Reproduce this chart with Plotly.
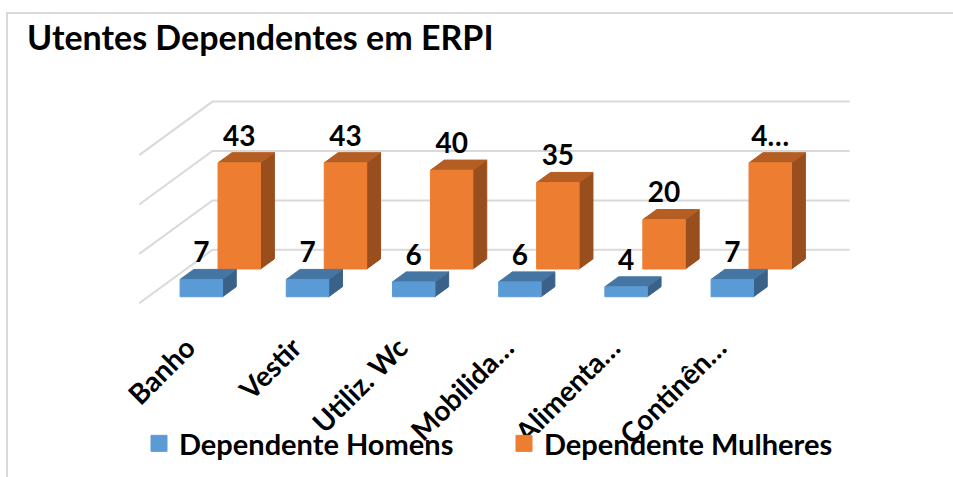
import plotly.graph_objects as go

# ---------------- data ----------------
categorias = ["Banho", "Vestir", "Utiliz. Wc", "Mobilida…", "Alimenta…", "Continên…"]
homens = [7, 7, 6, 6, 4, 7]
mulheres = [43, 43, 40, 35, 20, 43]
rotulos_homens = ["7", "7", "6", "6", "4", "7"]
rotulos_mulheres = ["43", "43", "40", "35", "20", "4…"]
grelha = [0, 20, 40, 60]
nomes = ["Dependente Homens", "Dependente Mulheres"]

# ---------------- styling / projection ----------------
FONT = "Lato"
KX = 0.690   # category units per unit of depth (oblique projection)
KY = 21.66   # value units per unit of depth
HW = 0.20    # half bar width (category units)
rows = [
    # name, values, labels, depth front, depth back, front, top, side
    (nomes[1], mulheres, rotulos_mulheres, 0.641, 0.830, "#ED7D31", "#B55E23", "#984E1D"),
    (nomes[0], homens, rotulos_homens, 0.123, 0.310, "#5B9BD5", "#4575A3", "#3A6289"),
]


def P(x, v, d):
    return x + KX * d, v + KY * d


fig = go.Figure()

# gridlines on left wall and back wall
gx, gy = [], []
for g in grelha:
    for (x, d) in [(-0.5, 0.0), (-0.5, 1.0), (len(categorias) - 0.5, 1.0)]:
        px, py = P(x, g, d)
        gx.append(px)
        gy.append(py)
    gx.append(None)
    gy.append(None)
fig.add_trace(go.Scatter(x=gx, y=gy, mode="lines", line=dict(color="#D9D9D9", width=2),
                         hoverinfo="skip", showlegend=False))

for name, vals, labs, df, db, cf, ct, cs in rows:
    fx, fy, tx, ty, sx, sy = [], [], [], [], [], []
    lx, ly = [], []
    for i, v in enumerate(vals):
        c = i
        for (x, val, d) in [(c - HW, 0, df), (c + HW, 0, df), (c + HW, v, df), (c - HW, v, df), (c - HW, 0, df)]:
            a, b = P(x, val, d); fx.append(a); fy.append(b)
        fx.append(None); fy.append(None)
        for (x, val, d) in [(c - HW, v, df), (c + HW, v, df), (c + HW, v, db), (c - HW, v, db), (c - HW, v, df)]:
            a, b = P(x, val, d); tx.append(a); ty.append(b)
        tx.append(None); ty.append(None)
        for (x, val, d) in [(c + HW, 0, df), (c + HW, 0, db), (c + HW, v, db), (c + HW, v, df), (c + HW, 0, df)]:
            a, b = P(x, val, d); sx.append(a); sy.append(b)
        sx.append(None); sy.append(None)
        a, _ = P(c, v, df)
        _, b = P(c, v, db)
        lx.append(a); ly.append(b)
    fig.add_trace(go.Scatter(x=sx, y=sy, fill="toself", fillcolor=cs, mode="lines",
                             line=dict(color=cs, width=1), hoverinfo="skip",
                             showlegend=False, legendgroup=name))
    fig.add_trace(go.Scatter(x=tx, y=ty, fill="toself", fillcolor=ct, mode="lines",
                             line=dict(color=ct, width=1), hoverinfo="skip",
                             showlegend=False, legendgroup=name))
    fig.add_trace(go.Scatter(x=fx, y=fy, fill="toself", fillcolor=cf, mode="lines",
                             line=dict(color=cf, width=1), name=name,
                             showlegend=False, legendgroup=name))
    fig.add_trace(go.Scatter(x=lx, y=ly, mode="text", text=labs, textposition="top center",
                             textfont=dict(family=FONT, size=28, color="black", weight=700),
                             hoverinfo="skip", showlegend=False, legendgroup=name))

# legend entries
for name, color in [(nomes[0], "#5B9BD5"), (nomes[1], "#ED7D31")]:
    fig.add_trace(go.Scatter(x=[None], y=[None], mode="markers", name=name, legendgroup=name,
                             marker=dict(symbol="square", size=16, color=color,
                                         line=dict(color=color, width=1))))

# ---------------- layout ----------------
W, H = 953, 477
L, R, T, B = 100, 53, 90, 152
PX0, PXS = 192.3, 106.2      # pixel of category 0 at depth 0, pixels per category
PY0, PYS = 303.3, 2.47       # pixel of value 0 at depth 0, pixels per value unit
x_range = [(L - PX0) / PXS, (W - R - PX0) / PXS]
y_range = [(PY0 - (H - B)) / PYS, (PY0 - T) / PYS]

pw, ph = W - L - R, H - T - B


def paper_x(px):
    return (px - L) / pw


def paper_y(py):
    return (H - B - py) / ph


fig.update_layout(
    width=W, height=H,
    margin=dict(l=L, r=R, t=T, b=B, pad=0, autoexpand=False),
    paper_bgcolor="white", plot_bgcolor="white",
    title=dict(text="Utentes Dependentes em ERPI", xref="container", yref="container",
               x=27 / W, xanchor="left", y=1 - 26 / H, yanchor="top",
               font=dict(family=FONT, size=34, color="black", weight=700)),
    xaxis=dict(range=x_range, tickmode="array", tickvals=list(range(len(categorias))),
               ticktext=categorias, tickangle=-45, showgrid=False, zeroline=False,
               showline=False, ticks="", fixedrange=True, ticklabelshift=-5,
               ticklabelstandoff=0, automargin=False,
               tickfont=dict(family=FONT, size=28, color="black", weight=700)),
    yaxis=dict(range=y_range, visible=False, fixedrange=True, automargin=False),
    legend=dict(orientation="h", xref="container", yref="container",
                x=139 / W, xanchor="left", y=1 - 418 / H, yanchor="top",
                font=dict(family=FONT, size=29, color="black", weight=700),
                entrywidth=320, bgcolor="rgba(0,0,0,0)"),
    shapes=[
        dict(type="line", xref="paper", yref="paper", x0=paper_x(7), y0=paper_y(H + 5),
             x1=paper_x(7), y1=paper_y(13), line=dict(color="#D9D9D9", width=2)),
        dict(type="line", xref="paper", yref="paper", x0=paper_x(6), y0=paper_y(13),
             x1=paper_x(W + 5), y1=paper_y(13), line=dict(color="#D9D9D9", width=2)),
    ],
)

fig.write_html("out.html", config={"displayModeBar": False},
               post_script="document.body.style.margin='0';")
